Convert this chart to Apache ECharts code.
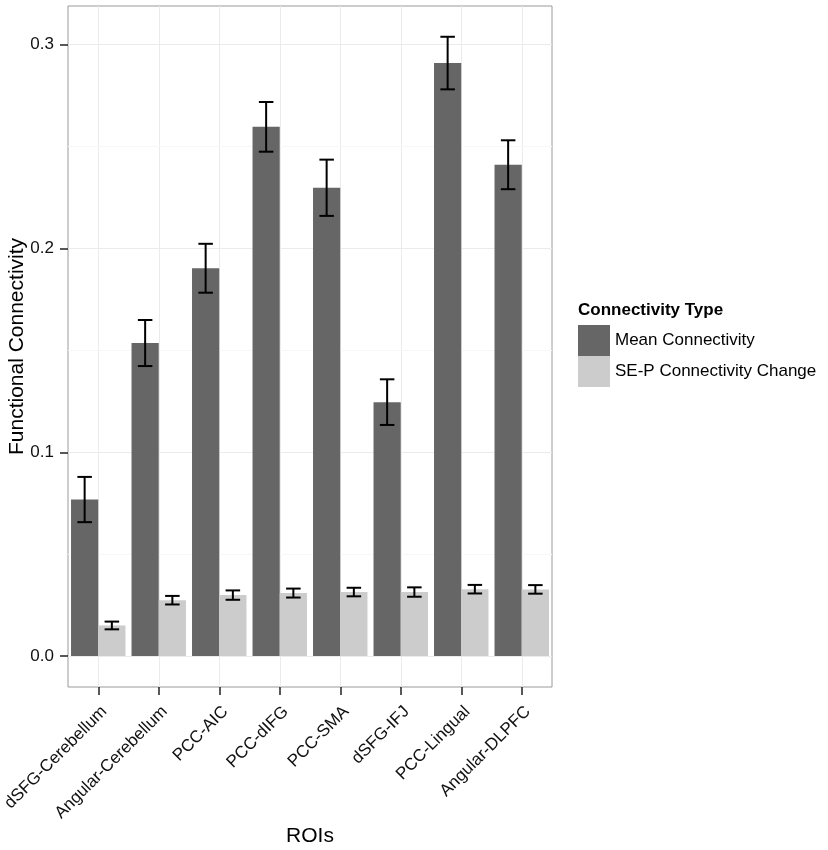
<!DOCTYPE html>
<html>
<head>
<meta charset="utf-8">
<script src="https://cdn.jsdelivr.net/npm/echarts@6/dist/echarts.min.js"></script>
<style>
  html, body { margin: 0; padding: 0; background: #fff; }
  #chart { width: 828px; height: 850px; }
</style>
</head>
<body>
<div id="chart"></div>
<script>
var categories = ['dSFG-Cerebellum', 'Angular-Cerebellum', 'PCC-AIC', 'PCC-dIFG', 'PCC-SMA', 'dSFG-IFJ', 'PCC-Lingual', 'Angular-DLPFC'];
var meanConn = [0.0768, 0.1536, 0.1903, 0.2597, 0.2298, 0.1246, 0.2910, 0.2411];
var meanErr = [0.0111, 0.0113, 0.0120, 0.0122, 0.0138, 0.0112, 0.0129, 0.0120];
var changeConn = [0.0150, 0.0274, 0.0299, 0.0309, 0.0314, 0.0314, 0.0328, 0.0327];
var changeErr = [0.0019, 0.0021, 0.0023, 0.0022, 0.0021, 0.0023, 0.0021, 0.0021];
var majorTicks = [0, 0.1, 0.2, 0.3];
var minorTicks = [0.05, 0.15, 0.25];
var seriesNames = ['Mean Connectivity', 'SE-P Connectivity Change'];

var font = '"Liberation Sans", Arial, Helvetica, sans-serif';
var chart = echarts.init(document.getElementById('chart'));

// error bar rows: [category index, low, high]
function errRows(vals, errs) {
    return vals.map(function (v, i) { return [i, v - errs[i], v + errs[i]]; });
}

function errorBar(offset) {
    return function (params, api) {
        var i = api.value(0);
        var lo = api.coord([i, api.value(1)]);
        var hi = api.coord([i, api.value(2)]);
        var band = api.size([1, 0])[0];
        var cx = lo[0] + offset * band;
        var cap = band * 0.12;
        var style = { stroke: '#000', lineWidth: 2 };
        return {
            type: 'group',
            children: [
                { type: 'line', shape: { x1: cx, y1: lo[1], x2: cx, y2: hi[1] }, style: style },
                { type: 'line', shape: { x1: cx - cap, y1: lo[1], x2: cx + cap, y2: lo[1] }, style: style },
                { type: 'line', shape: { x1: cx - cap, y1: hi[1], x2: cx + cap, y2: hi[1] }, style: style }
            ]
        };
    };
}

// panel grid lines, kept under the bars
var gridLines = [];
categories.forEach(function (c) {
    gridLines.push({ xAxis: c, lineStyle: { color: '#ebebeb', width: 1, type: 'solid' } });
});
majorTicks.forEach(function (t) {
    gridLines.push({ yAxis: t, lineStyle: { color: '#ebebeb', width: 1, type: 'solid' } });
});
minorTicks.forEach(function (t) {
    gridLines.push({ yAxis: t, lineStyle: { color: '#f7f7f7', width: 1, type: 'solid' } });
});

option = {
    backgroundColor: '#fff',
    animation: false,
    textStyle: { fontFamily: font },
    grid: {
        left: 68,
        right: 276,
        top: 6,
        bottom: 163,
        outerBoundsMode: 'none',
        show: true,
        backgroundColor: '#fff',
        borderColor: '#9a9a9a',
        borderWidth: 1
    },
    legend: {
        orient: 'vertical',
        left: 578,
        top: 325,
        padding: 0,
        itemWidth: 32,
        itemHeight: 31,
        itemGap: 0,
        icon: 'rect',
        data: seriesNames,
        textStyle: { fontFamily: font, fontSize: 17, color: '#000' },
        selectedMode: false
    },
    graphic: [{
        type: 'text',
        left: 578,
        top: 302,
        style: {
            text: 'Connectivity Type',
            font: 'bold 17px ' + font,
            fill: '#000'
        }
    }],
    xAxis: {
        type: 'category',
        data: categories,
        name: 'ROIs',
        nameLocation: 'middle',
        nameGap: 139,
        nameMoveOverlap: false,
        nameTextStyle: { fontFamily: font, fontSize: 21, color: '#000' },
        axisLine: { show: false, onZero: false },
        axisTick: { show: true, alignWithLabel: true, length: 8, lineStyle: { color: '#222', width: 1.5 } },
        axisLabel: {
            interval: 0,
            rotate: 45,
            margin: 16,
            verticalAlign: 'top',
            fontFamily: font,
            fontSize: 17,
            color: '#111'
        },
        splitLine: { show: false }
    },
    yAxis: {
        type: 'value',
        min: -0.0152,
        max: 0.319,
        name: 'Functional Connectivity',
        nameLocation: 'middle',
        nameGap: 40,
        nameMoveOverlap: false,
        nameTextStyle: { fontFamily: font, fontSize: 21, color: '#000' },
        axisLine: { show: false },
        axisTick: { show: true, length: 8, customValues: majorTicks, lineStyle: { color: '#222', width: 1.5 } },
        axisLabel: {
            margin: 14,
            fontFamily: font,
            fontSize: 17,
            color: '#111',
            customValues: majorTicks,
            formatter: function (v) { return v.toFixed(1); }
        },
        splitLine: { show: false }
    },
    series: [
        {
            name: 'grid',
            type: 'line',
            data: [],
            z: 1,
            silent: true,
            markLine: {
                z: 1,
                silent: true,
                symbol: ['none', 'none'],
                label: { show: false },
                lineStyle: { type: 'solid' },
                emphasis: { disabled: true },
                animation: false,
                data: gridLines
            }
        },
        {
            name: seriesNames[0],
            type: 'bar',
            data: meanConn,
            barWidth: '45%',
            barGap: '0%',
            itemStyle: { color: '#666666' },
            z: 2
        },
        {
            name: seriesNames[1],
            type: 'bar',
            data: changeConn,
            barWidth: '45%',
            barGap: '0%',
            itemStyle: { color: '#cccccc' },
            z: 2
        },
        {
            type: 'custom',
            renderItem: errorBar(-0.225),
            data: errRows(meanConn, meanErr),
            encode: { x: 0, y: [1, 2] },
            z: 5,
            silent: true
        },
        {
            type: 'custom',
            renderItem: errorBar(0.225),
            data: errRows(changeConn, changeErr),
            encode: { x: 0, y: [1, 2] },
            z: 5,
            silent: true
        }
    ]
};

chart.setOption(option);
</script>
</body>
</html>
